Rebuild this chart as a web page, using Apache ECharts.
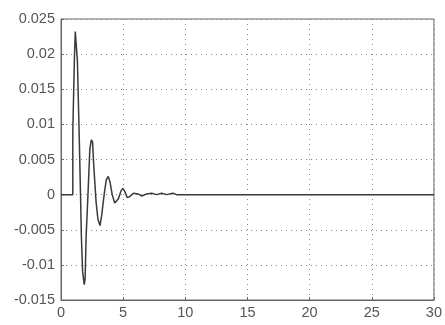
<!DOCTYPE html>
<html>
<head>
    <meta charset="UTF-8">
    <script src="https://cdn.jsdelivr.net/npm/echarts@6/dist/echarts.min.js"></script>
    <style>
        html, body { margin: 0; padding: 0; background: #fff; }
        #chart { width: 445px; height: 325px; }
    </style>
</head>
<body>
    <div id="chart"></div>
    <script>
        // 时间 / 响应值
        const times = [0, 0.95, 0.95, 1.08, 1.08, 1.15, 1.15, 1.27, 1.32, 1.42, 1.47, 1.57, 1.64, 1.74, 1.87, 1.94,
            2.02, 2.17, 2.32, 2.44, 2.54, 2.64, 2.82, 2.97, 3.14, 3.27, 3.47, 3.64, 3.8, 3.94, 4.12, 4.32, 4.47,
            4.62, 4.82, 4.97, 5.12, 5.32, 5.52, 5.82, 6.2, 6.5, 6.9, 7.3, 7.7, 8.1, 8.5, 9.0, 9.3, 30];
        const values = [0, 0, 0.009, 0.009, 0.0195, 0.0195, 0.0232, 0.023, 0.019, 0.019, 0.008, 0, -0.006, -0.011, -0.0128, -0.012,
            -0.006, 0, 0.0065, 0.0078, 0.0075, 0.004, -0.001, -0.0035, -0.0044, -0.003, 0, 0.0021, 0.0026, 0.0018, 0, -0.0012, -0.0014,
            -0.0006, 0.0005, 0.0009, 0.0005, -0.0004, -0.0003, 0.0002, 0.0001, -0.0002, 0.0001, 0.0002, 0, 0.0002, 0, 0.0002, 0, 0];
        // 刻度
        const xTicks = [0, 5, 10, 15, 20, 25, 30];
        const yTicks = [-0.015, -0.01, -0.005, 0, 0.005, 0.01, 0.015, 0.02, 0.025];

        const chart = echarts.init(document.getElementById('chart'));
        const gridLine = { show: true, lineStyle: { color: '#888', type: [1, 4], width: 1 } };
        const labelStyle = { color: '#555', fontSize: 14.5, fontFamily: 'Liberation Sans, Arial, sans-serif' };
        chart.setOption({
            animation: false,
            grid: { left: 61, top: 19, right: 7, bottom: 25, show: true, borderColor: '#666', borderWidth: 1 },
            xAxis: {
                type: 'value',
                min: xTicks[0], max: xTicks[xTicks.length - 1], interval: 5,
                axisLine: { show: true, onZero: false, lineStyle: { color: '#666' } },
                axisTick: { show: true, inside: true, length: 3, lineStyle: { color: '#666' } },
                axisLabel: Object.assign({ margin: 5 }, labelStyle),
                splitLine: gridLine
            },
            yAxis: {
                type: 'value',
                min: yTicks[0], max: yTicks[yTicks.length - 1], interval: 0.005,
                axisLine: { show: true, lineStyle: { color: '#666' } },
                axisTick: { show: true, inside: true, length: 3, lineStyle: { color: '#666' } },
                axisLabel: Object.assign({ margin: 6 }, labelStyle),
                splitLine: gridLine
            },
            series: [{
                type: 'line',
                data: times.map((t, i) => [t, values[i]]),
                showSymbol: false,
                lineStyle: { color: '#3a3a3a', width: 1.5 }
            }]
        });
    </script>
</body>
</html>
